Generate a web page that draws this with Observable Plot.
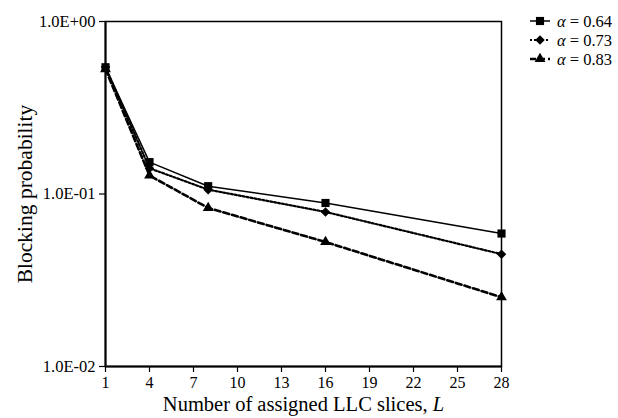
<!DOCTYPE html>
<html>
<head>
<meta charset="utf-8">
<script src="https://cdn.jsdelivr.net/npm/d3@7"></script>
<script src="https://cdn.jsdelivr.net/npm/@observablehq/plot@0.6"></script>
<style>
  html, body { margin: 0; padding: 0; background: #fff; }
  #chart { width: 618px; height: 418px; }
</style>
</head>
<body>
<div id="chart"></div>
<script>
const slices = [1, 4, 8, 16, 28];
const seriesNames = ["0.64", "0.73", "0.83"];
const alpha064 = [0.543, 0.153, 0.111, 0.0887, 0.059];
const alpha073 = [0.545, 0.141, 0.106, 0.0787, 0.0448];
const alpha083 = [0.530, 0.128, 0.083, 0.0527, 0.0252];
const xTicks = [1, 4, 7, 10, 13, 16, 19, 22, 25, 28];
const yTicks = [1, 0.1, 0.01];
const yTickLabels = ["1.0E+00", "1.0E-01", "1.0E-02"];

const diamondSym = {
  draw(ctx, size) {
    const r = Math.sqrt(size / 2);
    ctx.moveTo(0, -r); ctx.lineTo(r, 0); ctx.lineTo(0, r); ctx.lineTo(-r, 0); ctx.closePath();
  }
};
const symMap = {square: d3.symbolSquare, diamond: diamondSym, triangle: d3.symbolTriangle};

const styles = {
  "0.64": {dash: null, width: 1.5, symbol: "square", r: 4.6},
  "0.73": {dash: "2,2", width: 2.2, symbol: "diamond", r: 3.8},
  "0.83": {dash: "6,3", width: 2.6, symbol: "triangle", r: 4.0}
};

const allValues = [alpha064, alpha073, alpha083];
const data = [];
seriesNames.forEach((name, i) => {
  slices.forEach((L, j) => data.push({series: name, L, p: allValues[i][j]}));
});

const font = "'Liberation Serif', 'Times New Roman', serif";
const marks = [];
seriesNames.forEach(name => {
  const s = styles[name];
  const d = data.filter(r => r.series === name);
  marks.push(Plot.line(d, {x: "L", y: "p", stroke: "black", strokeWidth: s.width, strokeDasharray: s.dash || undefined}));
  marks.push(Plot.dot(d, {x: "L", y: "p", symbol: () => symMap[s.symbol], fill: "black", stroke: "none", r: s.r}));
});

const chart = Plot.plot({
  width: 618,
  height: 418,
  marginLeft: 105,
  marginRight: 117,
  marginTop: 21,
  marginBottom: 52,
  style: {fontFamily: font, fontSize: "15px", color: "black", background: "white"},
  x: {domain: [1, 28], ticks: xTicks, label: null},
  y: {type: "log", domain: [0.01, 1], ticks: yTicks, label: null},
  marks: [
    Plot.frame({stroke: "black", strokeWidth: 1.5}),
    Plot.axisX({ticks: xTicks, tickSize: 6, tickFormat: () => "", label: null, strokeWidth: 1.2}),
    Plot.axisY({ticks: yTicks, tickSize: 6, tickFormat: () => "", label: null, strokeWidth: 1.2}),
    Plot.text(xTicks, {x: d => d, frameAnchor: "bottom", dy: 21, text: d => String(d), fontSize: 16, fontFamily: font, fill: "black", textAnchor: "middle"}),
    Plot.text(yTicks, {y: d => d, frameAnchor: "left", dx: -10, text: (d, i) => yTickLabels[i], fontSize: 16.5, fontFamily: font, fill: "black", textAnchor: "end"}),
    Plot.ruleX([1], {stroke: "black", strokeWidth: 2}),
    Plot.ruleY([0.01], {stroke: "black", strokeWidth: 2}),
    ...marks,
    Plot.text(["Number of assigned LLC slices, "], {frameAnchor: "bottom", dy: 44, dx: 0, text: d => d, fontSize: 20.5, fontFamily: font, fill: "black", textAnchor: "middle"}),
    Plot.text(["Blocking probability"], {frameAnchor: "left", dx: -80, rotate: -90, text: d => d, fontSize: 21.5, fontFamily: font, fill: "black", textAnchor: "middle"})
  ]
});

document.getElementById("chart").appendChild(chart);

const svg = d3.select(chart);
const xl = svg.selectAll("text").filter(function() { return this.textContent === "Number of assigned LLC slices, "; });
xl.append("tspan").attr("font-style", "italic").text("L");

const legend = svg.append("g").attr("font-family", font).attr("font-size", 16.5).attr("text-anchor", "start");
seriesNames.forEach((name, i) => {
  const s = styles[name];
  const y = 21 + i * 19;
  const g = legend.append("g").attr("transform", `translate(0,${y})`);
  g.append("line").attr("x1", 530).attr("x2", 550).attr("y1", 0).attr("y2", 0)
    .attr("stroke", "black").attr("stroke-width", s.width).attr("stroke-dasharray", s.dash);
  g.append("path").attr("transform", "translate(540,0)")
    .attr("d", d3.symbol(symMap[s.symbol], Math.PI * s.r * s.r)()).attr("fill", "black");
  const t = g.append("text").attr("x", 557).attr("y", 0).attr("dy", "0.35em").attr("fill", "black").attr("text-anchor", "start");
  t.append("tspan").attr("font-style", "italic").text("α");
  t.append("tspan").text(" = " + name);
});
</script>
</body>
</html>
